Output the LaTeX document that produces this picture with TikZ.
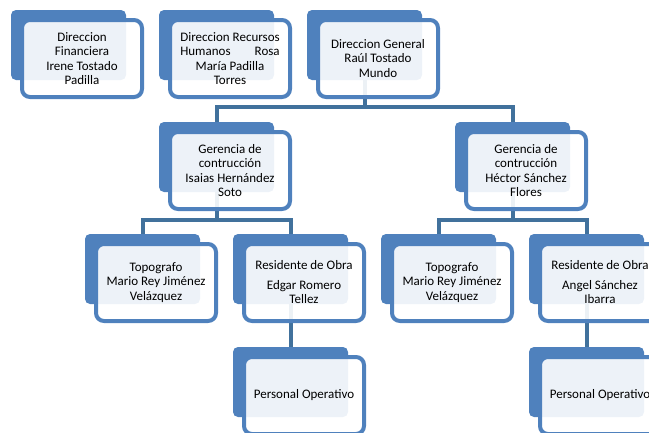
\documentclass[tikz,border=0pt]{standalone}
\usepackage{fontspec}
\setmainfont{Carlito}
\usepackage{calc}
\usetikzlibrary{backgrounds}
\definecolor{cajaazul}{HTML}{4F81BD}
\definecolor{lineaazul}{HTML}{41719C}
\tikzset{
  fondo/.style={fill=cajaazul, rounded corners=5pt, minimum width=115pt, minimum height=70pt, inner sep=0pt},
  frente/.style={draw=cajaazul, line width=4pt, fill=white, fill opacity=0.9, text opacity=1,
    rounded corners=8pt, minimum width=120pt, minimum height=77pt, inner sep=0pt, align=center,
    font=\fontsize{13}{14.5}\selectfont},
  enlace/.style={draw=lineaazul, line width=4pt}
}

\begin{document}
\begin{tikzpicture}[x=1pt,y=-1pt]
\useasboundingbox (0,0) rectangle (649,432);
% fila de direcciones
\node [fondo] (fin-b) at (68.5,45) {};
\node [frente] (fin) at (82,58.5) {Direccion\\Financiera\\Irene Tostado\\Padilla};
\node [fondo] (rrhh-b) at (216.5,45) {};
\node [frente] (rrhh) at (230,58.5) {Direccion Recursos\\\makebox[\widthof{Direccion Recursos}][s]{Humanos\hfill Rosa}\\María Padilla\\Torres};
\node [fondo] (gral-b) at (364.5,45) {};
\node [frente] (gral) at (378,58.5) {Direccion General\\Raúl Tostado\\Mundo};
% gerencias
\node [fondo] (ger1-b) at (216.5,157) {};
\node [frente] (ger1) at (230,170.5) {Gerencia de\\contrucción\\Isaias Hernández\\Soto};
\node [fondo] (ger2-b) at (512.5,157) {};
\node [frente] (ger2) at (526,170.5) {Gerencia de\\contrucción\\Héctor Sánchez\\Flores};
% topografos y residentes
\node [fondo] (top1-b) at (142.5,269) {};
\node [frente] (top1) at (156,282.5) {Topografo\\Mario Rey Jiménez\\Velázquez};
\node [fondo] (res1-b) at (290.5,269) {};
\node [frente] (res1) at (304,282.5) {Residente de Obra\\[5pt]Edgar Romero\\Tellez};
\node [fondo] (top2-b) at (438.5,269) {};
\node [frente] (top2) at (452,282.5) {Topografo\\Mario Rey Jiménez\\Velázquez};
\node [fondo] (res2-b) at (586.5,269) {};
\node [frente] (res2) at (600,282.5) {Residente de Obra\\[5pt]Angel Sánchez\\Ibarra};
% personal
\node [fondo] (per1-b) at (290.5,382) {};
\node [frente] (per1) at (304,395.5) {Personal Operativo};
\node [fondo] (per2-b) at (586.5,382) {};
\node [frente] (per2) at (600,395.5) {Personal Operativo};
% conectores
\begin{scope}[on background layer]
\coordinate (c0) at (364.5,107);
\coordinate (c1) at (216.5,220);
\coordinate (c2) at (512.5,220);
\draw [enlace] (gral-b.center) -- (c0);
\draw [enlace] (ger1-b.north) |- (c0) -| (ger2-b.north);
\draw [enlace] (ger1-b.center) -- (c1);
\draw [enlace] (top1-b.north) |- (c1) -| (res1-b.north);
\draw [enlace] (ger2-b.center) -- (c2);
\draw [enlace] (top2-b.north) |- (c2) -| (res2-b.north);
\draw [enlace] (res1-b.center) -- (per1-b.north);
\draw [enlace] (res2-b.center) -- (per2-b.north);
\end{scope}
\end{tikzpicture}
\end{document}
